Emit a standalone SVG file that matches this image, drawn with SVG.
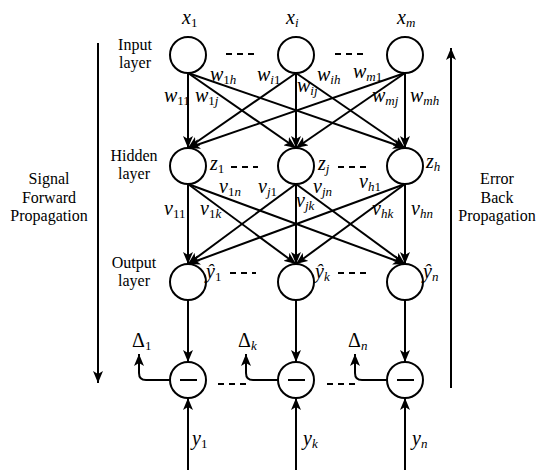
<svg xmlns="http://www.w3.org/2000/svg" width="543" height="470" viewBox="0 0 543 470">
<style>
.n{fill:#fff;stroke:#000;stroke-width:2}
.c{stroke:#000;stroke-width:2;fill:none}
.d{stroke:#000;stroke-width:2;stroke-dasharray:6,5;fill:none}
text{font-family:"Liberation Serif","DejaVu Serif","Noto Serif",serif}
.t{font-size:16px;fill:#000;text-anchor:middle}
.m{font-size:20px;font-style:italic;fill:#000}
.s{font-size:13px}
.u{font-style:normal}
</style>
<defs>
<marker id="ah" markerUnits="userSpaceOnUse" markerWidth="12" markerHeight="10" refX="12" refY="5" orient="auto">
<path d="M0,0 L12,5 L0,10 L3,5 Z" fill="#000"/>
</marker>
</defs>
<rect width="543" height="470" fill="#fff"/>
<g id="connectors" class="c" marker-end="url(#ah)">
<line x1="188" y1="73" x2="188" y2="148"/>
<line x1="188" y1="73" x2="296" y2="148"/>
<line x1="188" y1="73" x2="405" y2="148"/>
<line x1="296" y1="73" x2="188" y2="148"/>
<line x1="296" y1="73" x2="296" y2="148"/>
<line x1="296" y1="73" x2="405" y2="148"/>
<line x1="405" y1="73" x2="188" y2="148"/>
<line x1="405" y1="73" x2="296" y2="148"/>
<line x1="405" y1="73" x2="405" y2="148"/>
<line x1="188" y1="184" x2="188" y2="264"/>
<line x1="188" y1="184" x2="296" y2="264"/>
<line x1="188" y1="184" x2="405" y2="264"/>
<line x1="296" y1="184" x2="188" y2="264"/>
<line x1="296" y1="184" x2="296" y2="264"/>
<line x1="296" y1="184" x2="405" y2="264"/>
<line x1="405" y1="184" x2="188" y2="264"/>
<line x1="405" y1="184" x2="296" y2="264"/>
<line x1="405" y1="184" x2="405" y2="264"/>
<line x1="188" y1="300" x2="188" y2="362"/>
<line x1="296" y1="300" x2="296" y2="362"/>
<line x1="405" y1="300" x2="405" y2="362"/>
<line x1="188" y1="470" x2="188" y2="398"/>
<line x1="296" y1="470" x2="296" y2="398"/>
<line x1="405" y1="470" x2="405" y2="398"/>
<path d="M170,380 H146 Q139,380 139,373 V354"/>
<path d="M278,380 H253 Q246,380 246,373 V354"/>
<path d="M387,380 H362 Q355,380 355,373 V354"/>
<line x1="98" y1="43" x2="98" y2="383"/>
<line x1="451" y1="388" x2="451" y2="48"/>
</g>
<g id="dashes" class="d">
<line x1="226" y1="54" x2="256" y2="54"/>
<line x1="335" y1="54" x2="365" y2="54"/>
<line x1="231" y1="167" x2="258" y2="167"/>
<line x1="338" y1="167" x2="366" y2="167"/>
<line x1="230" y1="273" x2="256" y2="273"/>
<line x1="338" y1="273" x2="366" y2="273"/>
<line x1="218" y1="384" x2="246" y2="384"/>
<line x1="327" y1="384" x2="355" y2="384"/>
</g>
<g id="input1"><circle class="n" cx="188" cy="55" r="18"/><text class="m" x="182" y="24">x<tspan class="s u" dy="3">1</tspan></text></g>
<g id="inputi"><circle class="n" cx="296" cy="55" r="18"/><text class="m" x="286" y="24">x<tspan class="s" dy="3">i</tspan></text></g>
<g id="inputm"><circle class="n" cx="405" cy="55" r="18"/><text class="m" x="397" y="24">x<tspan class="s" dy="3">m</tspan></text></g>
<g id="hidden1"><circle class="n" cx="188" cy="166" r="18"/><text class="m" x="210" y="170">z<tspan class="s u" dy="3">1</tspan></text></g>
<g id="hiddenj"><circle class="n" cx="296" cy="166" r="18"/><text class="m" x="318" y="170">z<tspan class="s" dy="3">j</tspan></text></g>
<g id="hiddenh"><circle class="n" cx="405" cy="166" r="18"/><text class="m" x="426" y="168">z<tspan class="s" dy="3">h</tspan></text></g>
<g id="output1"><circle class="n" cx="188" cy="282" r="18"/><text class="m" x="206" y="278">ŷ<tspan class="s u" dy="3">1</tspan></text></g>
<g id="outputk"><circle class="n" cx="296" cy="282" r="18"/><text class="m" x="315" y="278">ŷ<tspan class="s" dy="3">k</tspan></text></g>
<g id="outputn"><circle class="n" cx="405" cy="282" r="18"/><text class="m" x="423" y="278">ŷ<tspan class="s" dy="3">n</tspan></text></g>
<g id="minus1"><circle class="n" cx="188" cy="380" r="18"/><line class="c" x1="180" y1="380" x2="197" y2="380"/><text class="m u" x="132" y="347">Δ<tspan class="s" dy="3">1</tspan></text><text class="m" x="192" y="445">y<tspan class="s u" dy="3">1</tspan></text></g>
<g id="minusk"><circle class="n" cx="296" cy="380" r="18"/><line class="c" x1="288" y1="380" x2="305" y2="380"/><text class="m u" x="238" y="347">Δ<tspan class="s" style="font-style:italic" dy="3">k</tspan></text><text class="m" x="303" y="445">y<tspan class="s" dy="3">k</tspan></text></g>
<g id="minusn"><circle class="n" cx="405" cy="380" r="18"/><line class="c" x1="397" y1="380" x2="414" y2="380"/><text class="m u" x="348" y="347">Δ<tspan class="s" style="font-style:italic" dy="3">n</tspan></text><text class="m" x="412" y="445">y<tspan class="s" dy="3">n</tspan></text></g>
<g id="weights">
<text class="m" x="210" y="81">w<tspan class="s u" dy="3">1</tspan><tspan class="s">h</tspan></text>
<text class="m" x="257" y="81">w<tspan class="s" dy="3">i</tspan><tspan class="s u">1</tspan></text>
<text class="m" x="317" y="81">w<tspan class="s" dy="3">ih</tspan></text>
<text class="m" x="353" y="78">w<tspan class="s" dy="3">m</tspan><tspan class="s u">1</tspan></text>
<text class="m" x="164" y="102">w<tspan class="s u" dy="3">11</tspan></text>
<text class="m" x="195" y="102">w<tspan class="s u" dy="3">1</tspan><tspan class="s">j</tspan></text>
<text class="m" x="297" y="92">w<tspan class="s" dy="3">ij</tspan></text>
<text class="m" x="372" y="102">w<tspan class="s" dy="3">mj</tspan></text>
<text class="m" x="410" y="102">w<tspan class="s" dy="3">mh</tspan></text>
<text class="m" x="219" y="193">v<tspan class="s u" dy="3">1</tspan><tspan class="s">n</tspan></text>
<text class="m" x="258" y="193">v<tspan class="s" dy="3">j</tspan><tspan class="s u">1</tspan></text>
<text class="m" x="313" y="193">v<tspan class="s" dy="3">jn</tspan></text>
<text class="m" x="359" y="188">v<tspan class="s" dy="3">h</tspan><tspan class="s u">1</tspan></text>
<text class="m" x="164" y="215">v<tspan class="s u" dy="3">11</tspan></text>
<text class="m" x="200" y="215">v<tspan class="s u" dy="3">1</tspan><tspan class="s">k</tspan></text>
<text class="m" x="296" y="207">v<tspan class="s" dy="3">jk</tspan></text>
<text class="m" x="372" y="215">v<tspan class="s" dy="3">hk</tspan></text>
<text class="m" x="411" y="215">v<tspan class="s" dy="3">hn</tspan></text>
</g>
<g id="layer-labels">
<text class="t" x="135" y="50">Input</text>
<text class="t" x="135" y="68">layer</text>
<text class="t" x="134" y="161">Hidden</text>
<text class="t" x="134" y="179">layer</text>
<text class="t" x="134" y="268">Output</text>
<text class="t" x="134" y="286">layer</text>
<text class="t" x="49" y="184">Signal</text>
<text class="t" x="49" y="203">Forward</text>
<text class="t" x="49" y="221">Propagation</text>
<text class="t" x="497" y="184">Error</text>
<text class="t" x="497" y="203">Back</text>
<text class="t" x="497" y="221">Propagation</text>
</g>
</svg>
